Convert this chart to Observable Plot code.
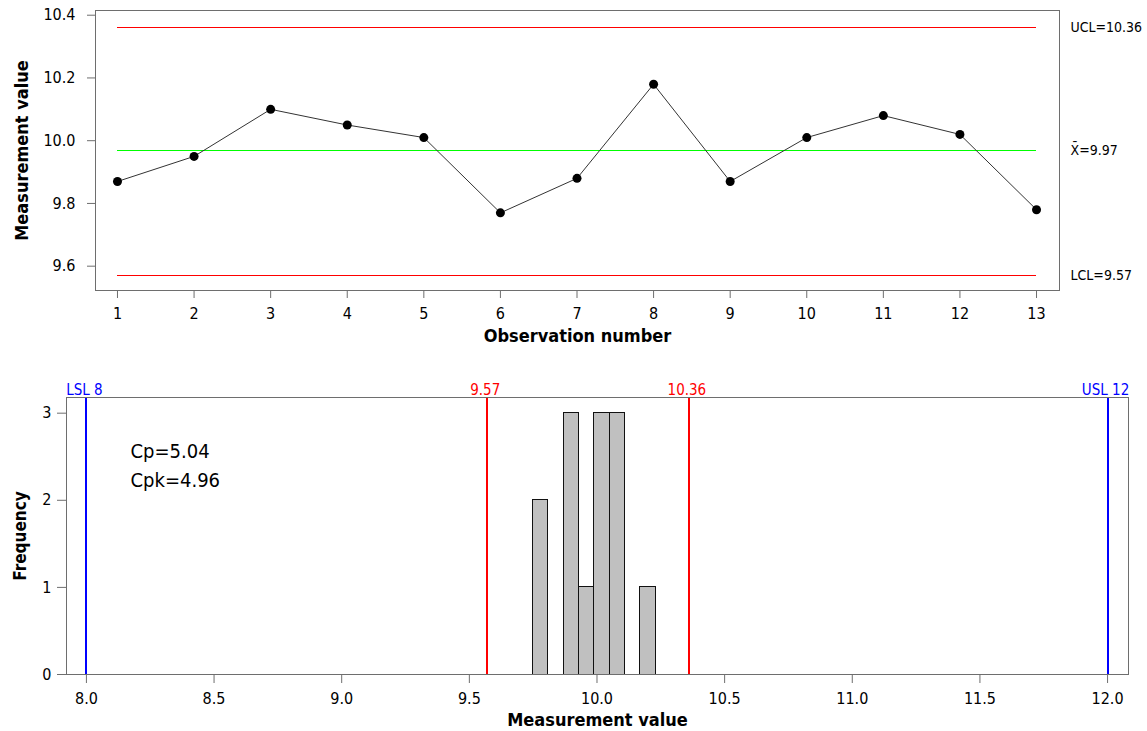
<!DOCTYPE html>
<html><head><meta charset="utf-8">
<script src="https://cdn.jsdelivr.net/npm/d3@7"></script>
<script src="https://cdn.jsdelivr.net/npm/@observablehq/plot@0.6"></script>
<style>
body{margin:0;background:#fff}
#wrap{width:1147px}
#wrap svg{display:block}
</style></head><body><div id="wrap"></div>
<script>
// ---- data ----
const observation = [1,2,3,4,5,6,7,8,9,10,11,12,13];
const measurement = [9.87, 9.95, 10.10, 10.05, 10.01, 9.77, 9.88, 10.18, 9.87, 10.01, 10.08, 10.02, 9.78];
const centerLine = 9.97;
const ucl = 10.36;
const lcl = 9.57;
const lsl = 8;
const usl = 12;
const cp = 5.04;
const cpk = 4.96;
const binThresholds = [9.75, 9.81, 9.87, 9.93, 9.99, 10.05, 10.11, 10.17, 10.23];
const topYTicks = [9.6, 9.8, 10.0, 10.2, 10.4];
const bottomXTicks = [8, 8.5, 9, 9.5, 10, 10.5, 11, 11.5, 12];
const bottomYTicks = [0, 1, 2, 3];

const FONT = '"DejaVu Sans Condensed","Noto Sans",sans-serif';
const obs = observation.map((o, i) => ({obs: o, value: measurement[i]}));
const limits = [
  {v: ucl, label: `UCL=${ucl}`, color: "#ff0000"},
  {v: centerLine, label: `X\u0304=${centerLine}`, color: "#00ff00"},
  {v: lcl, label: `LCL=${lcl}`, color: "#ff0000"}
];
const frameColor = "#6e6e6e";

const chartTop = Plot.plot({
  width: 1147, height: 350,
  marginLeft: 95, marginRight: 88, marginTop: 10, marginBottom: 60,
  style: {fontFamily: FONT, fontSize: "16px", color: "black", background: "white"},
  x: {domain: [0.713, 13.3], label: null},
  y: {domain: [9.5225, 10.415], label: null},
  marks: [
    Plot.frame({stroke: frameColor, shapeRendering: "crispEdges"}),
    Plot.axisY({ticks: topYTicks, tickFormat: d3.format(".1f"), tickSize: 8, tickPadding: 12, stroke: frameColor, label: null}),
    Plot.axisX({ticks: observation, tickFormat: d3.format("d"), tickSize: 8, tickPadding: 9, stroke: frameColor, label: null}),
    Plot.ruleY(limits, {y: "v", x1: observation[0], x2: observation[observation.length - 1], stroke: "color", strokeWidth: 1, shapeRendering: "crispEdges"}),
    Plot.text(limits, {y: "v", text: "label", frameAnchor: "right", textAnchor: "start", dx: 11, fontSize: 14}),
    Plot.line(obs, {x: "obs", y: "value", stroke: "#333", strokeWidth: 1}),
    Plot.dot(obs, {x: "obs", y: "value", r: 4.5, fill: "black", stroke: "none"}),
    Plot.text(["Measurement value"], {frameAnchor: "left", textAnchor: "middle", rotate: -90, dx: -73, fontWeight: "bold", fontSize: 18}),
    Plot.text(["Observation number"], {frameAnchor: "bottom", textAnchor: "middle", dy: 51, fontWeight: "bold", fontSize: 18})
  ]
});

const vlines = [
  {v: lsl, label: `LSL ${lsl}`, color: "#0000ff"},
  {v: lcl, label: `${lcl}`, color: "#ff0000"},
  {v: ucl, label: `${ucl}`, color: "#ff0000"},
  {v: usl, label: `USL ${usl}`, color: "#0000ff"}
];

const chartBottom = Plot.plot({
  width: 1147, height: 381,
  marginLeft: 66, marginRight: 19, marginTop: 47, marginBottom: 57,
  style: {fontFamily: FONT, fontSize: "16px", color: "black", background: "white"},
  x: {domain: [7.922, 12.082], label: null},
  y: {domain: [0, 3.18], label: null},
  marks: [
    Plot.rectY(measurement, Plot.binX({y: "count"}, {
      x: {value: d => d, thresholds: binThresholds, domain: [binThresholds[0], binThresholds[binThresholds.length - 1]]},
      fill: "#c0c0c0", stroke: "#111", strokeWidth: 1, inset: 0, shapeRendering: "crispEdges"
    })),
    Plot.ruleX(vlines, {x: "v", stroke: "color", strokeWidth: 2, shapeRendering: "crispEdges"}),
    Plot.text(vlines, {x: "v", text: "label", fill: "color", frameAnchor: "top", dy: -13, dx: -2, fontSize: 15}),
    Plot.frame({stroke: frameColor, shapeRendering: "crispEdges"}),
    Plot.axisY({ticks: bottomYTicks, tickFormat: d3.format("d"), tickSize: 9, tickPadding: 6, stroke: frameColor, label: null}),
    Plot.axisX({ticks: bottomXTicks, tickFormat: d3.format(".1f"), tickSize: 9, tickPadding: 9, stroke: frameColor, label: null}),
    Plot.text([`Cp=${cp}`], {frameAnchor: "top-left", textAnchor: "start", dx: 64, dy: 46, fontSize: 20}),
    Plot.text([`Cpk=${cpk}`], {frameAnchor: "top-left", textAnchor: "start", dx: 64, dy: 75, fontSize: 20}),
    Plot.text(["Frequency"], {frameAnchor: "left", textAnchor: "middle", rotate: -90, dx: -46, fontWeight: "bold", fontSize: 17}),
    Plot.text(["Measurement value"], {frameAnchor: "bottom", textAnchor: "middle", dy: 51, fontWeight: "bold", fontSize: 18})
  ]
});

document.getElementById("wrap").append(chartTop, chartBottom);
</script></body></html>
